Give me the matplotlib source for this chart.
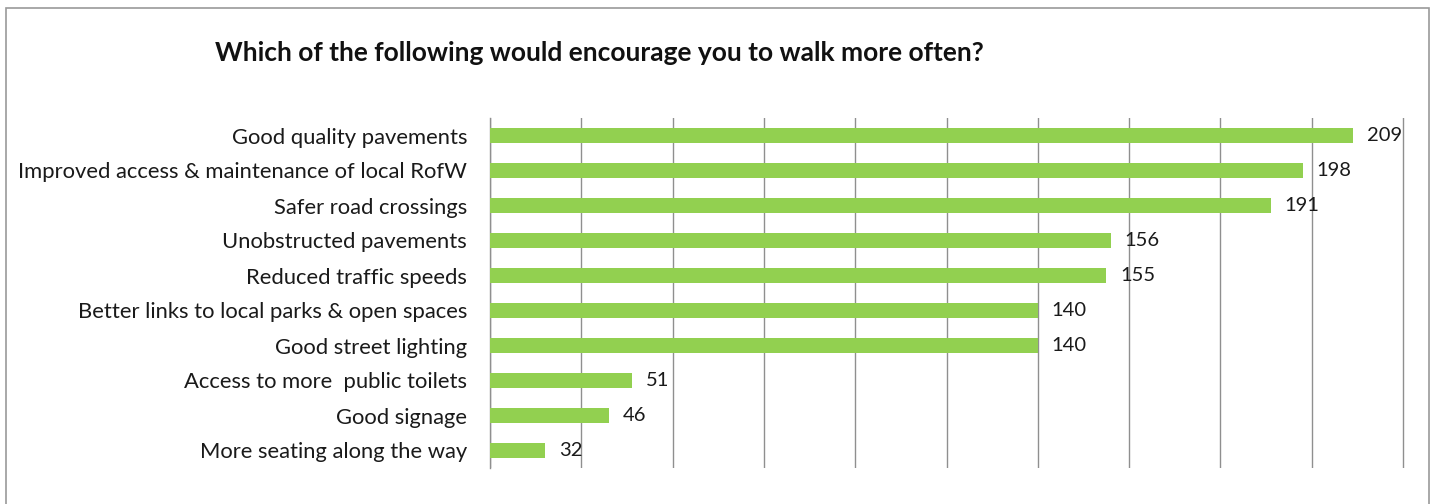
import matplotlib
matplotlib.use("Agg")
import matplotlib.pyplot as plt
from matplotlib.patches import Rectangle

categories = [
    "Good quality pavements",
    "Improved access & maintenance of local RofW",
    "Safer road crossings",
    "Unobstructed pavements",
    "Reduced traffic speeds",
    "Better links to local parks & open spaces",
    "Good street lighting",
    "Access to more  public toilets",
    "Good signage",
    "More seating along the way",
]
values = [209, 198, 191, 156, 155, 140, 140, 51, 46, 32]
title = "Which of the following would encourage you to walk more often?"

plt.rcParams['font.family'] = ['Lato', 'DejaVu Sans']

fig = plt.figure(figsize=(14.35, 5.04), dpi=100)
fig.patch.set_facecolor('white')

# outer chart frame
fig.patches.append(Rectangle((6/1435, -0.1), (1429-6)/1435, 1.1 - 8/504,
                             transform=fig.transFigure, fill=False,
                             edgecolor='#9a9a9a', linewidth=1.2))

ax = fig.add_axes([490/1435, 1 - 468/504, (1405-490)/1435, (468-118)/504])
y = list(range(len(categories)))
ax.barh(y, values, height=0.42, color='#92D050', zorder=3)
ax.set_xlim(20, 220 + 2/4.565)
ax.set_ylim(len(categories) - 0.5, -0.5)
ax.set_xticks(range(20, 221, 20))
ax.set_xticklabels([])
ax.tick_params(axis='x', length=0)
ax.tick_params(axis='y', length=0, pad=16.5, labelsize=15.8, labelcolor='#1a1a1a')
ax.set_yticks(y)
ax.set_yticklabels(categories)
ax.grid(axis='x', color='#8f8f8f', linewidth=1, zorder=0)
for s in ['top', 'right', 'bottom']:
    ax.spines[s].set_visible(False)
ax.spines['left'].set_color('#8f8f8f')
ax.spines['left'].set_linewidth(1)

for yi, v in zip(y, values):
    ax.annotate(str(v), xy=(v, yi), xytext=(14, 0), textcoords='offset pixels',
                va='center', ha='left', fontsize=14.5, color='#1a1a1a', zorder=4)

fig.text(215/1435, 1 - 53/504, title, fontsize=19, fontweight='bold',
         ha='left', va='center', color='#111111')

fig.savefig('out.png', dpi=100, facecolor='white')
